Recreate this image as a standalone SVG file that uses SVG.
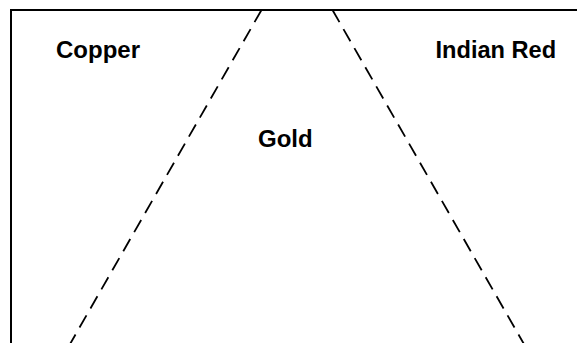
<svg xmlns="http://www.w3.org/2000/svg" width="577" height="343" viewBox="0 0 577 343">
<style>
.frame{fill:none;stroke:#000;stroke-width:2}
.div{fill:none;stroke:#000;stroke-width:1.8;stroke-dasharray:14,8}
.lbl{font-family:"Liberation Sans",Arial,sans-serif;font-weight:bold;font-size:24px;fill:#000}
</style>
<rect width="577" height="343" fill="#fff"/>
<g id="frame"><rect class="frame" x="11" y="10" width="600" height="400"/></g>
<g id="connectors">
<line class="div" x1="261.5" y1="10" x2="69.5" y2="345"/>
<line class="div" x1="332.5" y1="10" x2="524.5" y2="345"/>
</g>
<g id="copper"><text class="lbl" x="56" y="58">Copper</text></g>
<g id="indianred"><text class="lbl" x="435.5" y="58" style="font-size:23.6px">Indian Red</text></g>
<g id="gold"><text class="lbl" x="258" y="147">Gold</text></g>
</svg>
